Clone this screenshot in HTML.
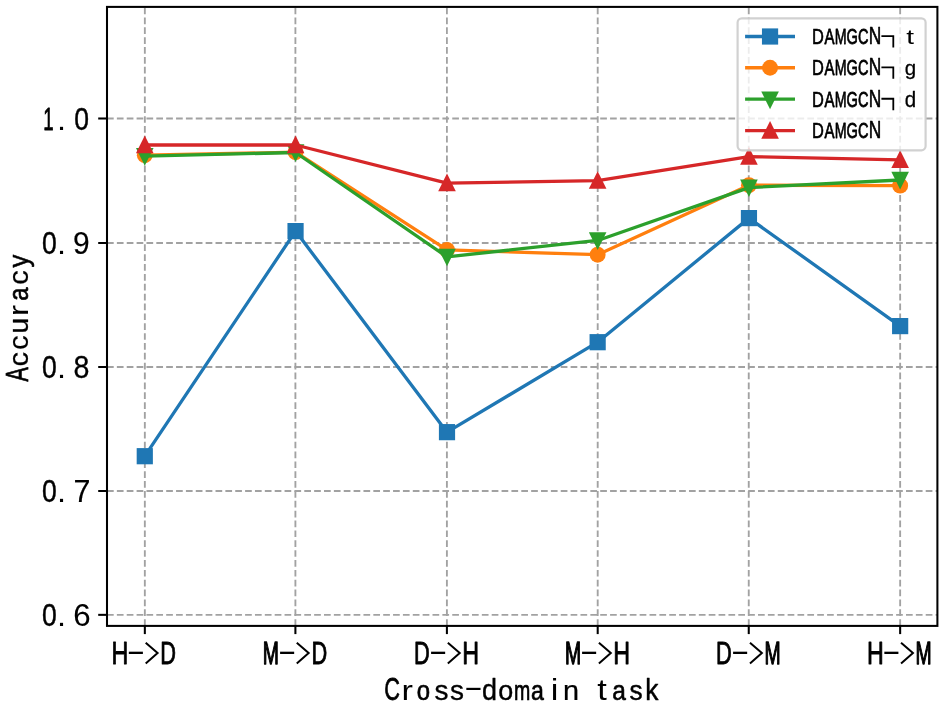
<!DOCTYPE html>
<html><head><meta charset="utf-8"><title>Cross-domain task accuracy</title>
<style>
html,body{margin:0;padding:0;background:#fff;}
body{width:944px;height:706px;overflow:hidden;font-family:"Liberation Sans",sans-serif;}
svg{will-change:transform;}
svg text{font-family:"Liberation Sans",sans-serif;stroke-linejoin:round;}
</style></head><body>
<svg width="944" height="706" viewBox="0 0 944 706" style="display:block" role="img" aria-label="Line chart: Accuracy versus Cross-domain task for DAMGCN variants">
<title>Accuracy vs. Cross-domain task (H->D, M->D, D->H, M->H, D->M, H->M) for DAMGCN&#172;t, DAMGCN&#172;g, DAMGCN&#172;d and DAMGCN</title>
<rect width="944" height="706" fill="#fff"/>
<defs><clipPath id="ax"><rect x="107.00" y="6.90" width="830.40" height="619.00"/></clipPath></defs>
<g stroke="#a2a2a2" stroke-width="1.86" stroke-dasharray="6.7 3.164" fill="none" clip-path="url(#ax)">
<line x1="144.84" y1="625.90" x2="144.84" y2="6.90"/>
<line x1="295.40" y1="625.90" x2="295.40" y2="6.90"/>
<line x1="446.90" y1="625.90" x2="446.90" y2="6.90"/>
<line x1="597.70" y1="625.90" x2="597.70" y2="6.90"/>
<line x1="748.75" y1="625.90" x2="748.75" y2="6.90"/>
<line x1="900.15" y1="625.90" x2="900.15" y2="6.90"/>
<line x1="107.00" y1="118.50" x2="937.40" y2="118.50"/>
<line x1="107.00" y1="243.00" x2="937.40" y2="243.00"/>
<line x1="107.00" y1="367.00" x2="937.40" y2="367.00"/>
<line x1="107.00" y1="491.00" x2="937.40" y2="491.00"/>
<line x1="107.00" y1="614.85" x2="937.40" y2="614.85"/>
</g>
<g clip-path="url(#ax)">
<polyline points="144.78,456.20 295.55,231.10 447.00,432.15 597.65,342.20 748.95,218.10 900.15,326.10" fill="none" stroke="#1f77b4" stroke-width="3.3" stroke-linejoin="round"/>
<rect x="136.68" y="448.10" width="16.2" height="16.2" fill="#1f77b4"/>
<rect x="287.45" y="223.00" width="16.2" height="16.2" fill="#1f77b4"/>
<rect x="438.90" y="424.05" width="16.2" height="16.2" fill="#1f77b4"/>
<rect x="589.55" y="334.10" width="16.2" height="16.2" fill="#1f77b4"/>
<rect x="740.85" y="210.00" width="16.2" height="16.2" fill="#1f77b4"/>
<rect x="892.05" y="318.00" width="16.2" height="16.2" fill="#1f77b4"/>
<polyline points="144.78,155.20 295.55,152.20 447.00,249.90 597.65,254.70 748.95,185.20 900.15,185.65" fill="none" stroke="#ff7f0e" stroke-width="3.3" stroke-linejoin="round"/>
<circle cx="144.78" cy="155.20" r="7.95" fill="#ff7f0e"/>
<circle cx="295.55" cy="152.20" r="7.95" fill="#ff7f0e"/>
<circle cx="447.00" cy="249.90" r="7.95" fill="#ff7f0e"/>
<circle cx="597.65" cy="254.70" r="7.95" fill="#ff7f0e"/>
<circle cx="748.95" cy="185.20" r="7.95" fill="#ff7f0e"/>
<circle cx="900.15" cy="185.65" r="7.95" fill="#ff7f0e"/>
<polyline points="144.78,156.15 295.55,152.50 447.00,256.85 597.65,240.45 748.95,187.60 900.15,180.00" fill="none" stroke="#2ca02c" stroke-width="3.3" stroke-linejoin="round"/>
<polygon points="144.78,165.65 153.58,148.01 135.98,148.01" fill="#2ca02c"/>
<polygon points="295.55,162.00 304.35,144.36 286.75,144.36" fill="#2ca02c"/>
<polygon points="447.00,266.35 455.80,248.71 438.20,248.71" fill="#2ca02c"/>
<polygon points="597.65,249.95 606.45,232.31 588.85,232.31" fill="#2ca02c"/>
<polygon points="748.95,197.10 757.75,179.46 740.15,179.46" fill="#2ca02c"/>
<polygon points="900.15,189.50 908.95,171.86 891.35,171.86" fill="#2ca02c"/>
<polyline points="144.78,145.00 295.55,145.00 447.00,183.10 597.65,180.70 748.95,156.60 900.15,159.80" fill="none" stroke="#d62728" stroke-width="3.3" stroke-linejoin="round"/>
<polygon points="144.78,135.50 153.58,153.14 135.98,153.14" fill="#d62728"/>
<polygon points="295.55,135.50 304.35,153.14 286.75,153.14" fill="#d62728"/>
<polygon points="447.00,173.60 455.80,191.24 438.20,191.24" fill="#d62728"/>
<polygon points="597.65,171.20 606.45,188.84 588.85,188.84" fill="#d62728"/>
<polygon points="748.95,147.10 757.75,164.74 740.15,164.74" fill="#d62728"/>
<polygon points="900.15,150.30 908.95,167.94 891.35,167.94" fill="#d62728"/>
</g>
<rect x="107.00" y="6.90" width="830.40" height="619.00" fill="none" stroke="#000" stroke-width="2.05"/>
<g stroke="#000" stroke-width="2.05">
<line x1="144.84" y1="625.90" x2="144.84" y2="634.1"/>
<line x1="295.40" y1="625.90" x2="295.40" y2="634.1"/>
<line x1="446.90" y1="625.90" x2="446.90" y2="634.1"/>
<line x1="597.70" y1="625.90" x2="597.70" y2="634.1"/>
<line x1="748.75" y1="625.90" x2="748.75" y2="634.1"/>
<line x1="900.15" y1="625.90" x2="900.15" y2="634.1"/>
<line x1="98.2" y1="118.50" x2="107.00" y2="118.50"/>
<line x1="98.2" y1="243.00" x2="107.00" y2="243.00"/>
<line x1="98.2" y1="367.00" x2="107.00" y2="367.00"/>
<line x1="98.2" y1="491.00" x2="107.00" y2="491.00"/>
<line x1="98.2" y1="614.85" x2="107.00" y2="614.85"/>
</g>
<g font-family="'Liberation Sans', sans-serif" fill="#000">
<text transform="translate(43.30,130.04) scale(0.5975,0.9849)" font-size="31.25" stroke="#000" stroke-width="0.65" vector-effect="non-scaling-stroke">1</text>
<text transform="translate(57.03,130.00) scale(1.0419,0.9277)" font-size="31.25">.</text>
<text transform="translate(74.17,130.09) scale(0.8488,0.9905)" font-size="31.25" stroke="#000" stroke-width="0.42" vector-effect="non-scaling-stroke">0</text>
<text transform="translate(41.97,254.14) scale(0.8488,0.9905)" font-size="31.25" stroke="#000" stroke-width="0.42" vector-effect="non-scaling-stroke">0</text>
<text transform="translate(57.03,254.00) scale(1.0419,0.9277)" font-size="31.25">.</text>
<text transform="translate(73.08,254.21) scale(0.9578,0.9961)" font-size="31.25" stroke="#000" stroke-width="0.17" vector-effect="non-scaling-stroke">9</text>
<text transform="translate(41.97,378.19) scale(0.8488,0.9905)" font-size="31.25" stroke="#000" stroke-width="0.42" vector-effect="non-scaling-stroke">0</text>
<text transform="translate(57.03,378.00) scale(1.0419,0.9277)" font-size="31.25">.</text>
<text transform="translate(73.59,378.23) scale(0.9160,0.9939)" font-size="31.25" stroke="#000" stroke-width="0.27" vector-effect="non-scaling-stroke">8</text>
<text transform="translate(41.97,502.24) scale(0.8488,0.9905)" font-size="31.25" stroke="#000" stroke-width="0.42" vector-effect="non-scaling-stroke">0</text>
<text transform="translate(57.03,502.00) scale(1.0419,0.9277)" font-size="31.25">.</text>
<text transform="translate(73.40,502.32) scale(0.9762,0.9969)" font-size="31.25" stroke="#000" stroke-width="0.13" vector-effect="non-scaling-stroke">7</text>
<text transform="translate(41.97,626.29) scale(0.8488,0.9905)" font-size="31.25" stroke="#000" stroke-width="0.42" vector-effect="non-scaling-stroke">0</text>
<text transform="translate(57.03,626.00) scale(1.0419,0.9277)" font-size="31.25">.</text>
<text transform="translate(73.35,626.38) scale(1.0001,0.9982)" font-size="31.25" stroke="#000" stroke-width="0.08" vector-effect="non-scaling-stroke">6</text>
<text transform="translate(111.58,663.81) scale(0.7447,0.9826)" font-size="31.25" stroke="#000" stroke-width="0.75" vector-effect="non-scaling-stroke">H</text>
<text transform="translate(126.31,661.00) scale(1.8481,0.9421)" font-size="31.25">-</text>
<polyline points="145.70,642.7 157.60,653.1 145.70,663.6" fill="none" stroke="#000" stroke-width="2.0" stroke-linejoin="miter"/>
<text transform="translate(160.31,663.81) scale(0.6970,0.9826)" font-size="31.25" stroke="#000" stroke-width="0.75" vector-effect="non-scaling-stroke">D</text>
<text transform="translate(262.74,663.73) scale(0.6195,0.9744)" font-size="31.25" stroke="#000" stroke-width="1.10" vector-effect="non-scaling-stroke">M</text>
<text transform="translate(277.38,661.00) scale(1.8481,0.9421)" font-size="31.25">-</text>
<polyline points="296.77,642.7 308.67,653.1 296.77,663.6" fill="none" stroke="#000" stroke-width="2.0" stroke-linejoin="miter"/>
<text transform="translate(311.38,663.81) scale(0.6970,0.9826)" font-size="31.25" stroke="#000" stroke-width="0.75" vector-effect="non-scaling-stroke">D</text>
<text transform="translate(413.94,663.81) scale(0.6970,0.9826)" font-size="31.25" stroke="#000" stroke-width="0.75" vector-effect="non-scaling-stroke">D</text>
<text transform="translate(428.45,661.00) scale(1.8481,0.9421)" font-size="31.25">-</text>
<polyline points="447.84,642.7 459.74,653.1 447.84,663.6" fill="none" stroke="#000" stroke-width="2.0" stroke-linejoin="miter"/>
<text transform="translate(462.23,663.81) scale(0.7447,0.9826)" font-size="31.25" stroke="#000" stroke-width="0.75" vector-effect="non-scaling-stroke">H</text>
<text transform="translate(564.88,663.73) scale(0.6195,0.9744)" font-size="31.25" stroke="#000" stroke-width="1.10" vector-effect="non-scaling-stroke">M</text>
<text transform="translate(579.52,661.00) scale(1.8481,0.9421)" font-size="31.25">-</text>
<polyline points="598.91,642.7 610.81,653.1 598.91,663.6" fill="none" stroke="#000" stroke-width="2.0" stroke-linejoin="miter"/>
<text transform="translate(613.30,663.81) scale(0.7447,0.9826)" font-size="31.25" stroke="#000" stroke-width="0.75" vector-effect="non-scaling-stroke">H</text>
<text transform="translate(716.08,663.81) scale(0.6970,0.9826)" font-size="31.25" stroke="#000" stroke-width="0.75" vector-effect="non-scaling-stroke">D</text>
<text transform="translate(730.59,661.00) scale(1.8481,0.9421)" font-size="31.25">-</text>
<polyline points="749.98,642.7 761.88,653.1 749.98,663.6" fill="none" stroke="#000" stroke-width="2.0" stroke-linejoin="miter"/>
<text transform="translate(764.46,663.73) scale(0.6195,0.9744)" font-size="31.25" stroke="#000" stroke-width="1.10" vector-effect="non-scaling-stroke">M</text>
<text transform="translate(866.93,663.81) scale(0.7447,0.9826)" font-size="31.25" stroke="#000" stroke-width="0.75" vector-effect="non-scaling-stroke">H</text>
<text transform="translate(881.66,661.00) scale(1.8481,0.9421)" font-size="31.25">-</text>
<polyline points="901.05,642.7 912.95,653.1 901.05,663.6" fill="none" stroke="#000" stroke-width="2.0" stroke-linejoin="miter"/>
<text transform="translate(915.53,663.73) scale(0.6195,0.9744)" font-size="31.25" stroke="#000" stroke-width="1.10" vector-effect="non-scaling-stroke">M</text>
<text transform="translate(384.22,699.84) scale(0.6948,0.9853)" font-size="31.25" stroke="#000" stroke-width="0.65" vector-effect="non-scaling-stroke">C</text>
<text transform="translate(401.52,700.00) scale(1.1000,0.8850)" font-size="31.25">r</text>
<text transform="translate(416.80,699.85) scale(0.7653,0.8673)" font-size="31.25" stroke="#000" stroke-width="0.61" vector-effect="non-scaling-stroke">o</text>
<text transform="translate(434.38,699.92) scale(0.8944,0.8758)" font-size="31.25" stroke="#000" stroke-width="0.31" vector-effect="non-scaling-stroke">s</text>
<text transform="translate(449.98,699.92) scale(0.8944,0.8758)" font-size="31.25" stroke="#000" stroke-width="0.31" vector-effect="non-scaling-stroke">s</text>
<text transform="translate(482.06,699.90) scale(0.8619,0.9416)" font-size="31.25" stroke="#000" stroke-width="0.39" vector-effect="non-scaling-stroke">d</text>
<text transform="translate(498.37,699.90) scale(0.8613,0.8736)" font-size="31.25" stroke="#000" stroke-width="0.39" vector-effect="non-scaling-stroke">o</text>
<text transform="translate(513.93,699.84) scale(0.6257,0.8657)" font-size="31.25" stroke="#000" stroke-width="0.65" vector-effect="non-scaling-stroke">m</text>
<text transform="translate(531.10,699.84) scale(0.7382,0.8660)" font-size="31.25" stroke="#000" stroke-width="0.65" vector-effect="non-scaling-stroke">a</text>
<text transform="translate(550.74,700.00) scale(1.1000,0.9500)" font-size="31.25">i</text>
<text transform="translate(563.11,699.94) scale(0.9229,0.8776)" font-size="31.25" stroke="#000" stroke-width="0.25" vector-effect="non-scaling-stroke">n</text>
<text transform="translate(597.27,700.00) scale(1.1000,0.9400)" font-size="31.25">t</text>
<text transform="translate(612.35,699.86) scale(0.7834,0.8682)" font-size="31.25" stroke="#000" stroke-width="0.57" vector-effect="non-scaling-stroke">a</text>
<text transform="translate(629.48,699.89) scale(0.8417,0.8724)" font-size="31.25" stroke="#000" stroke-width="0.43" vector-effect="non-scaling-stroke">s</text>
<text transform="translate(645.34,699.89) scale(0.8419,0.9405)" font-size="31.25" stroke="#000" stroke-width="0.43" vector-effect="non-scaling-stroke">k</text>
<text transform="translate(463.72,696.00) scale(1.8612,0.8602)" font-size="31.25">-</text>
<text transform="translate(27.84,381.52) rotate(-90) scale(0.6829,0.9849)" font-size="31.25" stroke="#000" stroke-width="0.65" vector-effect="non-scaling-stroke">A</text>
<text transform="translate(27.94,366.43) rotate(-90) scale(0.9332,0.8784)" font-size="31.25" stroke="#000" stroke-width="0.23" vector-effect="non-scaling-stroke">c</text>
<text transform="translate(27.95,350.05) rotate(-90) scale(0.9421,0.8790)" font-size="31.25" stroke="#000" stroke-width="0.21" vector-effect="non-scaling-stroke">c</text>
<text transform="translate(27.93,333.49) rotate(-90) scale(0.9048,0.8764)" font-size="31.25" stroke="#000" stroke-width="0.29" vector-effect="non-scaling-stroke">u</text>
<text transform="translate(28.00,316.33) rotate(-90) scale(1.1000,0.8850)" font-size="31.25">r</text>
<text transform="translate(27.84,300.69) rotate(-90) scale(0.7580,0.8665)" font-size="31.25" stroke="#000" stroke-width="0.63" vector-effect="non-scaling-stroke">a</text>
<text transform="translate(27.94,284.86) rotate(-90) scale(0.9288,0.8781)" font-size="31.25" stroke="#000" stroke-width="0.24" vector-effect="non-scaling-stroke">c</text>
<text transform="translate(28.00,267.42) rotate(-90) scale(0.8209,0.8744)" font-size="31.25" stroke="#000" stroke-width="0.49" vector-effect="non-scaling-stroke">y</text>
</g>
<rect x="737.6" y="18.4" width="188.00" height="131.90" rx="4.2" ry="4.2" fill="#fff" fill-opacity="0.8" stroke="#ccc" stroke-opacity="0.9" stroke-width="2.2"/>
<g font-family="'Liberation Sans', sans-serif" fill="#000">
<line x1="745.1" y1="36.5" x2="795" y2="36.5" stroke="#1f77b4" stroke-width="3.3"/>
<rect x="761.95" y="28.40" width="16.2" height="16.2" fill="#1f77b4"/>
<text transform="translate(811.94,44.05) scale(0.7013,0.9820)" font-size="23.4" stroke="#000" stroke-width="0.58" vector-effect="non-scaling-stroke">D</text>
<text transform="translate(824.50,44.04) scale(0.6413,0.9798)" font-size="23.4" stroke="#000" stroke-width="0.65" vector-effect="non-scaling-stroke">A</text>
<text transform="translate(834.65,44.04) scale(0.6101,0.9798)" font-size="23.4" stroke="#000" stroke-width="0.65" vector-effect="non-scaling-stroke">M</text>
<text transform="translate(846.49,44.04) scale(0.6252,0.9804)" font-size="23.4" stroke="#000" stroke-width="0.65" vector-effect="non-scaling-stroke">G</text>
<text transform="translate(857.98,44.04) scale(0.6242,0.9804)" font-size="23.4" stroke="#000" stroke-width="0.65" vector-effect="non-scaling-stroke">C</text>
<text transform="translate(868.63,44.07) scale(0.7416,0.9843)" font-size="23.4" stroke="#000" stroke-width="0.51" vector-effect="non-scaling-stroke">N</text>
<polyline points="881.4,36.10 893.3,36.10 893.3,47.50" fill="none" stroke="#000" stroke-width="1.8"/>
<text transform="translate(906.24,44.20) scale(1.2000,0.8700)" font-size="23.4">t</text>
<line x1="745.1" y1="67.75" x2="795" y2="67.75" stroke="#ff7f0e" stroke-width="3.3"/>
<circle cx="770.05" cy="67.75" r="7.95" fill="#ff7f0e"/>
<text transform="translate(811.94,75.30) scale(0.7013,0.9820)" font-size="23.4" stroke="#000" stroke-width="0.58" vector-effect="non-scaling-stroke">D</text>
<text transform="translate(824.50,75.29) scale(0.6413,0.9798)" font-size="23.4" stroke="#000" stroke-width="0.65" vector-effect="non-scaling-stroke">A</text>
<text transform="translate(834.65,75.29) scale(0.6101,0.9798)" font-size="23.4" stroke="#000" stroke-width="0.65" vector-effect="non-scaling-stroke">M</text>
<text transform="translate(846.49,75.29) scale(0.6252,0.9804)" font-size="23.4" stroke="#000" stroke-width="0.65" vector-effect="non-scaling-stroke">G</text>
<text transform="translate(857.98,75.29) scale(0.6242,0.9804)" font-size="23.4" stroke="#000" stroke-width="0.65" vector-effect="non-scaling-stroke">C</text>
<text transform="translate(868.63,75.32) scale(0.7416,0.9843)" font-size="23.4" stroke="#000" stroke-width="0.51" vector-effect="non-scaling-stroke">N</text>
<polyline points="881.4,67.35 893.3,67.35 893.3,78.75" fill="none" stroke="#000" stroke-width="1.8"/>
<text transform="translate(904.77,75.45) scale(0.8777,0.8494)" font-size="23.4" stroke="#000" stroke-width="0.26" vector-effect="non-scaling-stroke">g</text>
<line x1="745.1" y1="99.15" x2="795" y2="99.15" stroke="#2ca02c" stroke-width="3.3"/>
<polygon points="770.05,109.15 778.85,91.51 761.25,91.51" fill="#2ca02c"/>
<text transform="translate(811.94,106.70) scale(0.7013,0.9820)" font-size="23.4" stroke="#000" stroke-width="0.58" vector-effect="non-scaling-stroke">D</text>
<text transform="translate(824.50,106.69) scale(0.6413,0.9798)" font-size="23.4" stroke="#000" stroke-width="0.65" vector-effect="non-scaling-stroke">A</text>
<text transform="translate(834.65,106.69) scale(0.6101,0.9798)" font-size="23.4" stroke="#000" stroke-width="0.65" vector-effect="non-scaling-stroke">M</text>
<text transform="translate(846.49,106.69) scale(0.6252,0.9804)" font-size="23.4" stroke="#000" stroke-width="0.65" vector-effect="non-scaling-stroke">G</text>
<text transform="translate(857.98,106.69) scale(0.6242,0.9804)" font-size="23.4" stroke="#000" stroke-width="0.65" vector-effect="non-scaling-stroke">C</text>
<text transform="translate(868.63,106.72) scale(0.7416,0.9843)" font-size="23.4" stroke="#000" stroke-width="0.51" vector-effect="non-scaling-stroke">N</text>
<polyline points="881.4,98.75 893.3,98.75 893.3,110.15" fill="none" stroke="#000" stroke-width="1.8"/>
<text transform="translate(904.77,106.78) scale(0.8777,0.9353)" font-size="23.4" stroke="#000" stroke-width="0.26" vector-effect="non-scaling-stroke">d</text>
<line x1="745.1" y1="130.55" x2="795" y2="130.55" stroke="#d62728" stroke-width="3.3"/>
<polygon points="770.05,121.05 778.85,138.69 761.25,138.69" fill="#d62728"/>
<text transform="translate(811.94,138.10) scale(0.7013,0.9820)" font-size="23.4" stroke="#000" stroke-width="0.58" vector-effect="non-scaling-stroke">D</text>
<text transform="translate(824.50,138.09) scale(0.6413,0.9798)" font-size="23.4" stroke="#000" stroke-width="0.65" vector-effect="non-scaling-stroke">A</text>
<text transform="translate(834.65,138.09) scale(0.6101,0.9798)" font-size="23.4" stroke="#000" stroke-width="0.65" vector-effect="non-scaling-stroke">M</text>
<text transform="translate(846.49,138.09) scale(0.6252,0.9804)" font-size="23.4" stroke="#000" stroke-width="0.65" vector-effect="non-scaling-stroke">G</text>
<text transform="translate(857.98,138.09) scale(0.6242,0.9804)" font-size="23.4" stroke="#000" stroke-width="0.65" vector-effect="non-scaling-stroke">C</text>
<text transform="translate(868.63,138.12) scale(0.7416,0.9843)" font-size="23.4" stroke="#000" stroke-width="0.51" vector-effect="non-scaling-stroke">N</text>
</g>
</svg>
</body></html>
